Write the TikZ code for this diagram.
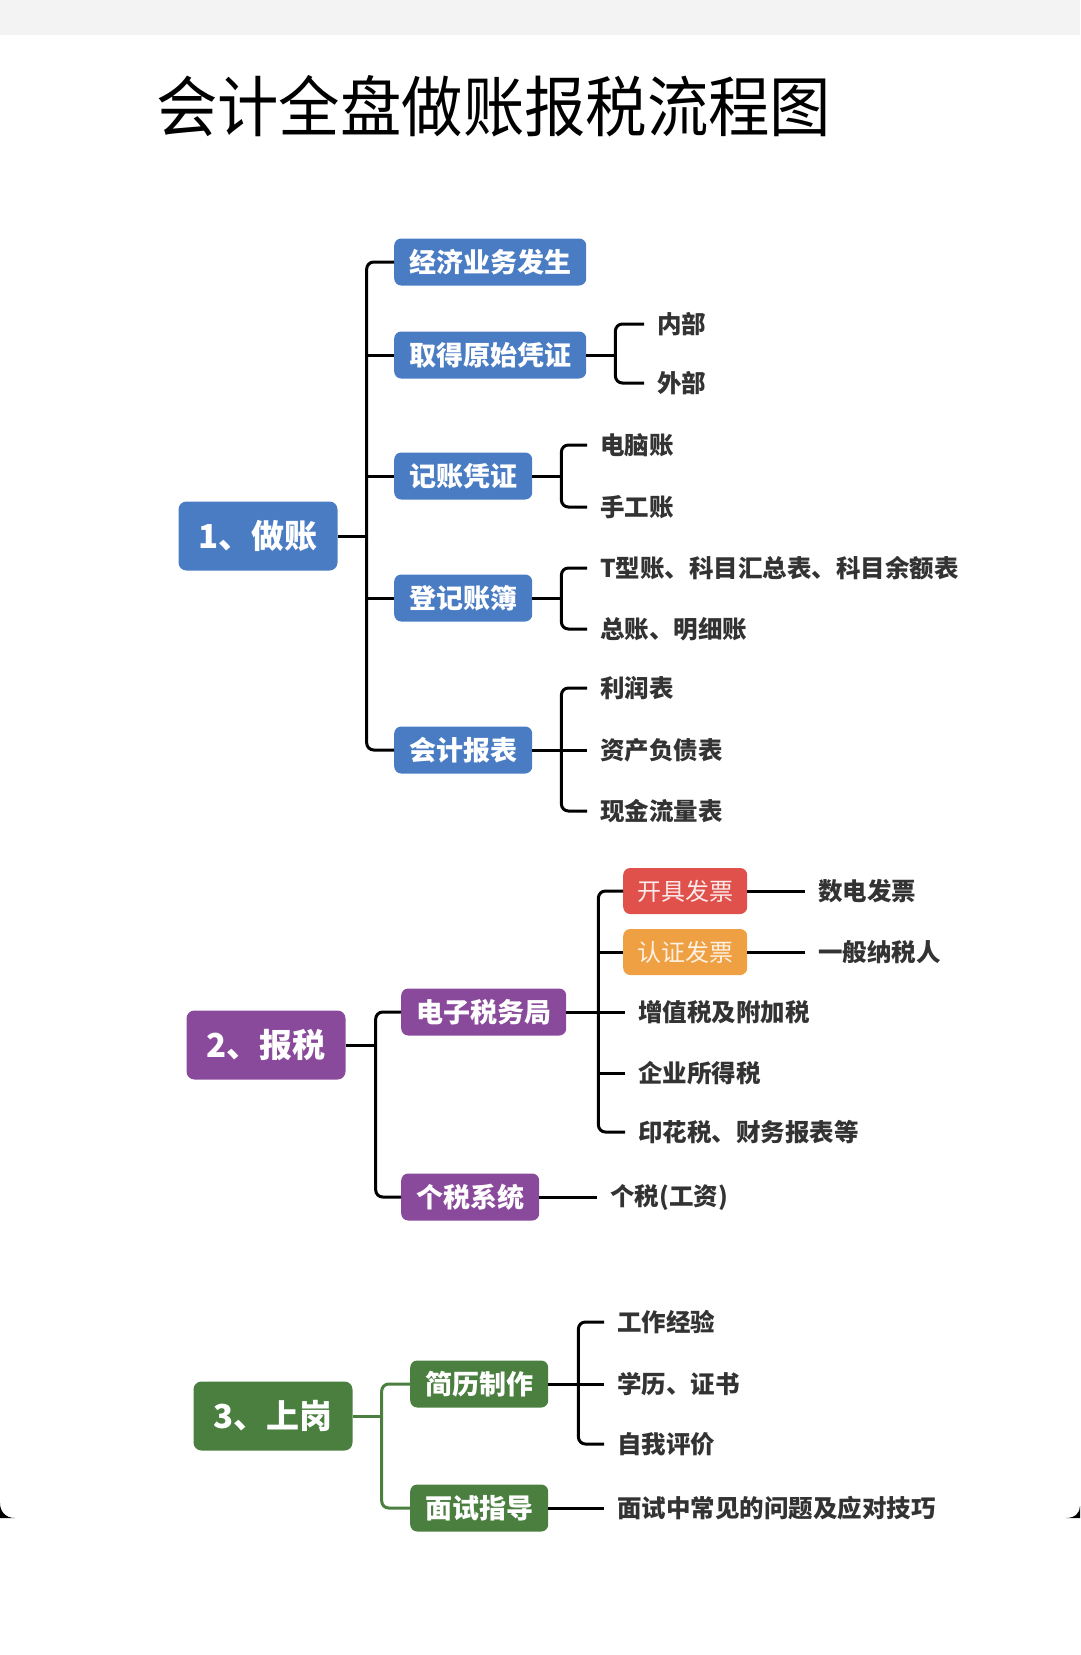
\documentclass[tikz,border=0pt]{standalone}
\usepackage{fontspec}
\usepackage{tikz}
\usetikzlibrary{positioning}
\newfontfamily\cjk{Noto Sans CJK SC}
\newfontfamily\titlefont{Noto Sans CJK SC}[FakeStretch=0.93]
\definecolor{zbblue}{HTML}{4A7CC4}
\definecolor{bspurple}{HTML}{8A4A9C}
\definecolor{sggreen}{HTML}{4A7F40}
\definecolor{fpred}{HTML}{E0514B}
\definecolor{fporange}{HTML}{EFA043}
\definecolor{leafgray}{HTML}{333333}
\definecolor{topgray}{HTML}{F3F3F3}
\tikzset{
  rootbox/.style={rounded corners=8pt, minimum width=159pt, minimum height=69pt, inner sep=0pt,
    text=white, font=\cjk\bfseries\fontsize{33}{33}\selectfont},
  subbox/.style={rounded corners=7pt, minimum height=47pt, inner xsep=15pt, inner ysep=0pt,
    anchor=west, text=white, font=\cjk\bfseries\fontsize{27}{27}\selectfont},
  tagbox/.style={rounded corners=7pt, minimum height=46pt, minimum width=124pt, inner sep=0pt,
    anchor=west, font=\cjk\fontsize{24}{24}\selectfont},
  leaf/.style={anchor=west, inner xsep=13pt, inner ysep=0pt, text=leafgray,
    font=\cjk\bfseries\fontsize{24.5}{24.5}\selectfont},
  link/.style={line width=3pt, rounded corners=7pt},
}
\begin{document}
\begin{tikzpicture}[x=1pt,y=-1pt]
        \useasboundingbox (0,0) rectangle (1080,1655);
        \fill[topgray] (0,0) rectangle (1080,35);
        \fill[black] (0,1503) .. controls (0,1512) and (6,1518) .. (15,1518) -- (0,1518) -- cycle;
        \fill[black] (1080,1506) .. controls (1080,1513) and (1075,1518) .. (1066,1518) -- (1080,1518) -- cycle;
        \node[anchor=west, inner sep=0pt, font=\titlefont\fontsize{66}{66}\selectfont] (title) at (156,106) {会计全盘做账报税流程图};

        % 1 做账
        \node[rootbox, fill=zbblue] (zb) at (258,536) {1、做账};
        \node[subbox, fill=zbblue] (zb1) at (394,262) {经济业务发生};
        \node[subbox, fill=zbblue] (zb2) at (394,355) {取得原始凭证};
        \node[subbox, fill=zbblue] (zb3) at (394,476) {记账凭证};
        \node[subbox, fill=zbblue] (zb4) at (394,598) {登记账簿};
        \node[subbox, fill=zbblue] (zb5) at (394,750) {会计报表};
        \node[leaf] (zb21) at (644,324) {内部};
        \node[leaf] (zb22) at (644,383) {外部};
        \node[leaf] (zb31) at (587,445) {电脑账};
        \node[leaf] (zb32) at (587,507) {手工账};
        \node[leaf] (zb41) at (587,568) {T型账、科目汇总表、科目余额表};
        \node[leaf] (zb42) at (587,629) {总账、明细账};
        \node[leaf] (zb51) at (587,688) {利润表};
        \node[leaf] (zb52) at (587,750) {资产负债表};
        \node[leaf] (zb53) at (587,811) {现金流量表};

        \draw[link] (zb.east) -- ++(29,0) coordinate (zbj);
        \draw[link] (zbj) |- (zb1.west);
        \draw[link] (zbj) |- (zb5.west);
        \draw[link] (zb2.west -| zbj) -- (zb2.west);
        \draw[link] (zb3.west -| zbj) -- (zb3.west);
        \draw[link] (zb4.west -| zbj) -- (zb4.west);
        \draw[link] (zb2.east) -- ++(29,0) coordinate (zb2k);
        \draw[link] (zb2k) |- (zb21.west);
        \draw[link] (zb2k) |- (zb22.west);
        \draw[link] (zb3.east) -- ++(29,0) coordinate (zb3k);
        \draw[link] (zb3k) |- (zb31.west);
        \draw[link] (zb3k) |- (zb32.west);
        \draw[link] (zb4.east) -- ++(29,0) coordinate (zb4k);
        \draw[link] (zb4k) |- (zb41.west);
        \draw[link] (zb4k) |- (zb42.west);
        \draw[link] (zb5.east) -- ++(29,0) coordinate (zb5k);
        \draw[link] (zb5k) |- (zb51.west);
        \draw[link] (zb5k) |- (zb53.west);
        \draw[link] (zb5k) -- (zb52.west);

        % 2 报税
        \node[rootbox, fill=bspurple] (bs) at (266,1045) {2、报税};
        \node[subbox, fill=bspurple] (bs1) at (401,1012) {电子税务局};
        \node[subbox, fill=bspurple] (bs2) at (401,1197) {个税系统};
        \node[tagbox, fill=fpred, text=fpred!12] (fp1) at (623,891) {开具发票};
        \node[tagbox, fill=fporange, text=fporange!15] (fp2) at (623,952) {认证发票};
        \node[leaf] (fp11) at (805,891) {数电发票};
        \node[leaf] (fp21) at (805,952) {一般纳税人};
        \node[leaf] (bs13) at (625,1012) {增值税及附加税};
        \node[leaf] (bs14) at (625,1073) {企业所得税};
        \node[leaf] (bs15) at (625,1132) {印花税、财务报表等};
        \node[leaf] (bs21) at (597,1197) {个税(工资)};

        \draw[link] (bs.east) -- ++(30,0) coordinate (bsj);
        \draw[link] (bsj) |- (bs1.west);
        \draw[link] (bsj) |- (bs2.west);
        \draw[link] (bs1.east) -- ++(32,0) coordinate (bs1k);
        \draw[link] (bs1k) |- (fp1.west);
        \draw[link] (bs1k) |- (bs15.west);
        \draw[link] (fp2.west -| bs1k) -- (fp2.west);
        \draw[link] (bs1k) -- (bs13.west);
        \draw[link] (bs14.west -| bs1k) -- (bs14.west);
        \draw[link] (fp1.east) -- (fp11.west);
        \draw[link] (fp2.east) -- (fp21.west);
        \draw[link] (bs2.east) -- (bs21.west);

        % 3 上岗
        \node[rootbox, fill=sggreen] (sg) at (273,1416) {3、上岗};
        \node[subbox, fill=sggreen] (sg1) at (410,1384) {简历制作};
        \node[subbox, fill=sggreen] (sg2) at (410,1508) {面试指导};
        \node[leaf] (sg11) at (604,1322) {工作经验};
        \node[leaf] (sg12) at (604,1384) {学历、证书};
        \node[leaf] (sg13) at (604,1444) {自我评价};
        \node[leaf] (sg21) at (604,1508) {面试中常见的问题及应对技巧};

        \draw[link, sggreen] (sg.east) -- ++(29,0) coordinate (sgj);
        \draw[link, sggreen] (sgj) |- (sg1.west);
        \draw[link, sggreen] (sgj) |- (sg2.west);
        \draw[link] (sg1.east) -- ++(30,0) coordinate (sg1k);
        \draw[link] (sg1k) |- (sg11.west);
        \draw[link] (sg1k) |- (sg13.west);
        \draw[link] (sg1k) -- (sg12.west);
        \draw[link] (sg2.east) -- (sg21.west);
\end{tikzpicture}
\end{document}
